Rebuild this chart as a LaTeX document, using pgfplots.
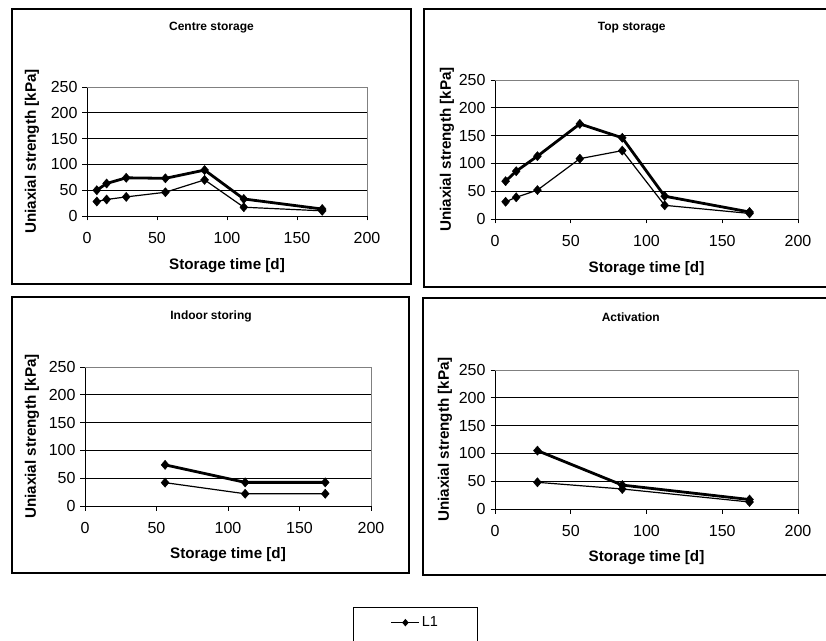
\documentclass[border=0pt]{standalone}
\usepackage{fontspec}
\setmainfont{Liberation Sans}
\usepackage{pgfplots}
\pgfplotsset{compat=1.18}

\pgfplotstableread{
x thick thin
7 50 28
14 63 32
28 74 37
56 73 46
84 89 70
112 33 17
168 13.5 10
}\centre
\pgfplotstableread{
x thick thin
7 68 31
14 86 39
28 113 52
56 171 108.5
84 146 123
112 41 24.6
168 12.6 10
}\topst
\pgfplotstableread{
x thick thin
56 74 42
112 42.5 22
168 42.5 22
}\indoor
\pgfplotstableread{
x thick thin
28 105 48
84 43 36
168 17 12.6
}\activ

\pgfplotsset{
  panel/.style={
    scale only axis,
    xmin=0, xmax=200, ymin=0, ymax=250,
    xtick={0,50,...,200}, ytick={0,50,...,250},
    axis x line*=bottom, axis y line*=left,
    axis line style={black, line width=0.9pt, -},
    tick align=outside,
    major tick length=4.5pt,
    tick style={black, line width=0.9pt},
    ymajorgrids, grid style={black, line width=0.8pt},
    /pgf/number format/assume math mode=true,
    ticklabel style={font=\fontsize{16}{18}\selectfont},
    xticklabel style={yshift=-8pt},
    yticklabel style={xshift=-1.5pt},
    xlabel={Storage time [d]},
    ylabel={Uniaxial strength [kPa]},
    xlabel style={font=\bfseries\fontsize{15.2}{18}\selectfont, anchor=center},
    ylabel style={font=\bfseries\fontsize{15.2}{18}\selectfont, anchor=center, rotate=0},
    clip=false,
  },
  thickser/.style={black, line width=2.8pt, mark=diamond*, mark size=4.6pt, mark options={solid, line width=0.4pt, xscale=1.15}},
  thinser/.style={black, line width=1.2pt, mark=diamond*, mark size=4.6pt, mark options={solid, line width=0.4pt, xscale=1.15}},
}

\begin{document}
\begin{tikzpicture}[x=1pt,y=1pt]
\useasboundingbox (0,0) rectangle (826,640);
\fill[white] (0,0) rectangle (826,640);
% panel frames
\draw[black, line width=1.2pt] (12,356) rectangle (411,631);
\draw[black, line width=1.2pt] (424,353) rectangle (830,631);
\draw[black, line width=1.2pt] (12,67) rectangle (409,343);
\draw[black, line width=1.2pt] (423,65) rectangle (830,342);
% titles
\node[font=\bfseries\fontsize{12}{14}\selectfont] at (211.5,612.5) {Centre storage};
\node[font=\bfseries\fontsize{12}{14}\selectfont] at (631.7,612.5) {Top storage};
\node[font=\bfseries\fontsize{12}{14}\selectfont] at (211,323.5) {Indoor storing};
\node[font=\bfseries\fontsize{12}{14}\selectfont] at (630.8,322.5) {Activation};

\begin{axis}[panel, at={(87pt,424pt)}, anchor=south west, width=280pt, height=129pt,
  xlabel style={at={([yshift=-50pt]axis description cs:0.5,0)}},
  ylabel style={at={([xshift=-55pt]axis description cs:0,0.5)}}]
\addplot[thinser] table[x=x,y=thin] {\centre};
\addplot[thickser] table[x=x,y=thick] {\centre};
\draw[gray, line width=0.9pt] (rel axis cs:0,1) -- (rel axis cs:1,1) -- (rel axis cs:1,0);
\end{axis}

\begin{axis}[panel, at={(495pt,421pt)}, anchor=south west, width=303pt, height=139pt,
  xlabel style={at={([yshift=-49.5pt]axis description cs:0.5,0)}},
  ylabel style={at={([xshift=-48pt]axis description cs:0,0.5)}}]
\addplot[thinser] table[x=x,y=thin] {\topst};
\addplot[thickser] table[x=x,y=thick] {\topst};
\draw[gray, line width=0.9pt] (rel axis cs:0,1) -- (rel axis cs:1,1) -- (rel axis cs:1,0);
\end{axis}

\begin{axis}[panel, at={(85pt,134pt)}, anchor=south west, width=286pt, height=139pt,
  xlabel style={at={([yshift=-49pt]axis description cs:0.5,0)}},
  ylabel style={at={([xshift=-53pt]axis description cs:0,0.5)}}]
\addplot[thinser] table[x=x,y=thin] {\indoor};
\addplot[thickser] table[x=x,y=thick] {\indoor};
\draw[gray, line width=0.9pt] (rel axis cs:0,1) -- (rel axis cs:1,1) -- (rel axis cs:1,0);
\end{axis}

\begin{axis}[panel, at={(495pt,131pt)}, anchor=south west, width=303pt, height=139pt,
  xlabel style={at={([yshift=-49pt]axis description cs:0.5,0)}},
  ylabel style={at={([xshift=-50pt]axis description cs:0,0.5)}},
  legend style={at={(axis description cs:-0.4686,-0.705)}, anchor=north west,
    draw=black, line width=0.8pt, font=\fontsize{14.5}{17}\selectfont,
    inner xsep=37.5pt, inner ysep=7.5pt, row sep=4pt},
  legend cell align=left]
\addplot[thinser, forget plot] table[x=x,y=thin] {\activ};
\addplot[thickser, forget plot] table[x=x,y=thick] {\activ};
\addlegendimage{legend image code/.code={\draw[black, line width=1pt, mark=diamond*, mark size=3pt, mark options={solid, xscale=1.15}, mark repeat=2, mark phase=2] plot coordinates {(0pt,0pt) (14pt,0pt) (28pt,0pt)};}}
\addlegendentry{L1}
\addlegendimage{empty legend}
\addlegendentry{}
\addlegendimage{empty legend}
\addlegendentry{}
\draw[gray, line width=0.9pt] (rel axis cs:0,1) -- (rel axis cs:1,1) -- (rel axis cs:1,0);
\end{axis}
\end{tikzpicture}
\end{document}
